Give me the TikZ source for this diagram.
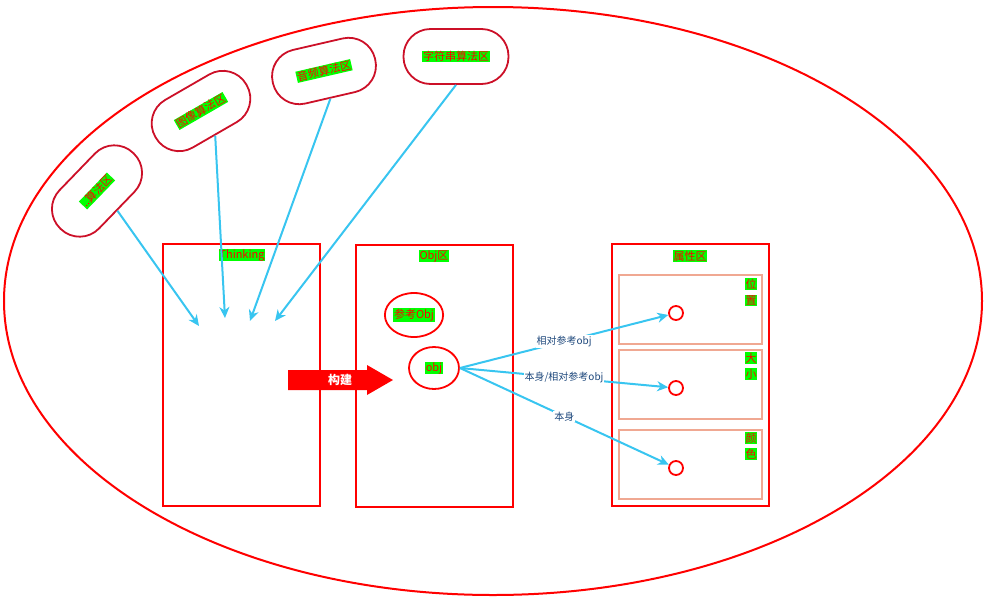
\documentclass[tikz,border=0pt]{standalone}
\usepackage{fontspec}
\setmainfont{Noto Sans CJK SC}
\usetikzlibrary{arrows.meta,positioning,shapes.geometric}

\definecolor{hlgreen}{RGB}{0,255,0}
\definecolor{capred}{RGB}{204,16,40}
\definecolor{linkblue}{RGB}{56,197,240}
\definecolor{subpink}{RGB}{240,168,146}
\definecolor{labelblue}{RGB}{31,73,125}

\newcommand{\glabel}[1]{{\setlength{\fboxsep}{0.6pt}\colorbox{hlgreen}{\textcolor{red}{#1}}}}

\tikzset{
  capsule/.style={draw=capred, line width=1.8pt, rounded corners=27pt, minimum width=105pt, minimum height=55pt, inner sep=0pt, font=\fontsize{11}{13}\selectfont},
  area/.style={draw=red, line width=2pt, minimum width=157pt, minimum height=262pt},
  subbox/.style={draw=subpink, line width=2pt, minimum width=143pt, minimum height=69pt},
  title/.style={inner sep=0pt, font=\fontsize{11}{13}\selectfont},
  vtitle/.style={inner sep=0pt, align=center, font=\fontsize{11}{16}\selectfont},
  dot/.style={circle, draw=red, line width=1.8pt, minimum size=14pt, inner sep=0pt},
  objnode/.style={ellipse, draw=red, line width=1.8pt, inner sep=0pt, font=\fontsize{11}{13}\selectfont},
  link/.style={linkblue, line width=2pt, -{Stealth[length=11pt,width=10pt,inset=3.5pt]}},
  linklabel/.style={fill=white, text=labelblue, font=\fontsize{10}{12}\selectfont, inner sep=1pt},
}

\begin{document}
\begin{tikzpicture}[x=1pt,y=-1pt]
	\useasboundingbox (0,0) rectangle (986,603);
	% outer ellipse
	\draw[red, line width=2pt] (493,301) ellipse [x radius=489, y radius=294];

	% algorithm zones
	\node[capsule, rotate=46] (calc) at (97,191) {\glabel{..算法区}};
	\node[capsule, rotate=30] (image) at (201,111) {\glabel{图像算法区}};
	\node[capsule, rotate=13] (audio) at (324,71) {\glabel{音频算法区}};
	\node[capsule] (string) at (456,56.5) {\glabel{字符串算法区}};

	% three areas
	\node[area] (think) at (241,375) {};
	\node[area] (objarea) at (434.5,376) {};
	\node[area] (attr) at (690,375) {};
	\node[title] (thinkt) at (242,255) {\glabel{Thinking}};
	\node[title] (objt) at (434,256) {\glabel{Obj区}};
	\node[title] (attrt) at (690,256) {\glabel{属性区}};

	% attribute slots
	\node[subbox] (pos) at (690.5,309.5) {};
	\node[subbox] (size) at (690.5,384.5) {};
	\node[subbox] (color) at (690.5,464) {};
	\node[vtitle] (post) at (751,292) {\glabel{位}\\\glabel{置}};
	\node[vtitle] (sizet) at (751,366) {\glabel{大}\\\glabel{小}};
	\node[vtitle] (colort) at (751,446) {\glabel{颜}\\\glabel{色}};
	\node[dot] (c1) at (676,313) {};
	\node[dot] (c2) at (676,388) {};
	\node[dot] (c3) at (676,468) {};

	% objects
	\node[objnode, minimum width=50pt, minimum height=44pt] (ref) at (414,315) {\glabel{参考Obj}};
	\node[objnode, minimum width=50pt, minimum height=42pt] (obj) at (434,368) {\glabel{obj}};

	% build arrow
	\fill[red] (288,370) -- (367,370) -- (367,365) -- (393,380) -- (367,395) -- (367,390) -- (288,390) -- cycle;
	\node[text=white, font=\fontsize{12}{14}\selectfont\bfseries] (build) at (340,380) {构建};

	% inputs into Thinking
	\coordinate (t1) at (199,326);
	\coordinate (t2) at (225,318);
	\coordinate (t3) at (250,321);
	\coordinate (t4) at (275,321);
	\draw[link] (calc.south) -- (t1);
	\draw[link] (image.south) -- (t2);
	\draw[link] (audio.south) -- (t3);
	\draw[link] (string.south) -- (t4);

	% obj to attributes
	\draw[link] (obj.east) -- node[linklabel] {相对参考obj} (c1);
	\draw[link] (obj.east) -- node[linklabel] {本身/相对参考obj} (c2);
	\draw[link] (obj.east) -- node[linklabel] {本身} (c3);
\end{tikzpicture}
\end{document}
